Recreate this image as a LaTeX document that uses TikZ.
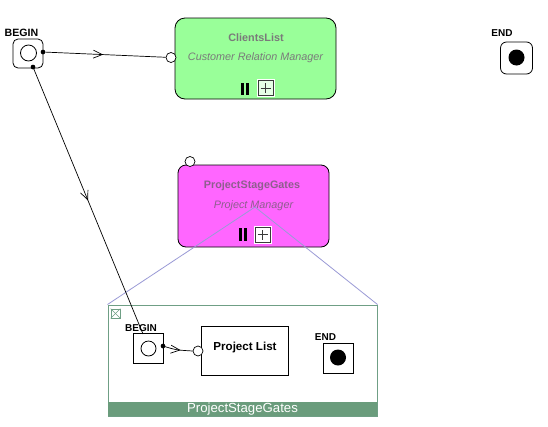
\documentclass[tikz,border=0pt]{standalone}
\usepackage{fontspec}
\setmainfont{Liberation Sans}
\usetikzlibrary{arrows.meta,decorations.markings}
\definecolor{lgreen}{HTML}{99FF99}
\definecolor{mag}{HTML}{FF66FF}
\definecolor{titlegray}{HTML}{7A7A7A}
\definecolor{maggray}{HTML}{8E5E8E}
\definecolor{lav}{HTML}{9A9AD6}
\definecolor{framegreen}{HTML}{6F9F85}
\definecolor{bandgreen}{HTML}{6A9C7C}
\definecolor{iconborder}{HTML}{3A3A3A}
\begin{document}
\begin{tikzpicture}[x=1pt,y=-1pt,
  lbl/.style={font=\bfseries\fontsize{10}{11}\selectfont, inner sep=0},
  evbox/.style={draw, line width=0.8pt, minimum width=30pt, minimum height=30pt, inner sep=0},
  startc/.style={circle, draw, line width=0.8pt, minimum size=16pt, inner sep=0},
  endc/.style={circle, fill=black, minimum size=15pt, inner sep=0},
  port/.style={circle, draw, line width=0.7pt, fill=white, minimum size=10pt, inner sep=0},
  dot/.style={circle, fill=black, minimum size=4.5pt, inner sep=0},
  task/.style={draw, line width=0.8pt, rounded corners=10pt, inner sep=0},
  ttl/.style={font=\bfseries\fontsize{10.8}{12}\selectfont, inner sep=0},
  role/.style={font=\itshape\fontsize{10.8}{12}\selectfont, inner sep=0},
  conn/.style={line width=0.7pt},
  midarrow/.style={postaction={decorate}, decoration={markings, mark=at position #1 with {\arrow{Straight Barb[length=9pt,width=8pt,line width=0.7pt]}}}},
  pbar/.style={fill=black, minimum width=3pt, minimum height=12pt, inner sep=0},
  plusout/.style={draw=white, line width=0.8pt, minimum size=17pt, inner sep=0},
  plusin/.style={draw=iconborder, line width=0.8pt, minimum size=15pt, inner sep=0},
  pluscross/.style={line width=0.8pt, draw=iconborder}
]
\useasboundingbox (0,0) rectangle (548,426);
\fill[white] (0,0) rectangle (548,426);

% ---- top BEGIN
\node[evbox, rounded corners=5pt, minimum width=30pt, minimum height=29pt] (b1) at (28,53.5) {};
\node[startc] (b1c) at (28.5,53) {};
\node[lbl, font=\bfseries\fontsize{10.6}{11}\selectfont] (b1l) at (21.5,33) {BEGIN};

% ---- top END
\node[evbox, rounded corners=6pt, minimum width=32pt, minimum height=32pt] (e1) at (516.5,58) {};
\node[endc, minimum size=16pt] (e1c) at (516.5,57.5) {};
\node[lbl] (e1l) at (502,33.5) {END};

% ---- ClientsList
\node[task, fill=lgreen, minimum width=161pt, minimum height=81pt] (cl) at (255.5,58.5) {};
\node[ttl, text=titlegray] (clt) at (256,38) {ClientsList};
\node[role, text=titlegray] (clr) at (255.5,57.5) {Customer Relation Manager};
\node[pbar] (clb1) at (242.5,88.5) {};
\node[pbar] (clb2) at (247.5,88.5) {};
\node[plusout] (clpo) at (265.5,88) {};
\node[plusin, fill=lgreen!25!white] (clp) at (265.5,88) {};
\draw[pluscross] ([xshift=-5pt]clp.center) -- ([xshift=5pt]clp.center);
\draw[pluscross] ([yshift=-5pt]clp.center) -- ([yshift=5pt]clp.center);
\node[port] (clport) at (171,57.5) {};

% ---- ProjectStageGates
\node[task, rounded corners=8pt, fill=mag, minimum width=151pt, minimum height=82pt] (psg) at (253.5,206) {};
\node[ttl, text=maggray] (psgt) at (252,185.5) {ProjectStageGates};
\node[role, text=maggray] (psgr) at (253.5,205.5) {Project Manager};
\node[pbar, minimum height=13pt] (psgb1) at (240,234.5) {};
\node[pbar, minimum height=13pt] (psgb2) at (245,234.5) {};
\node[plusout] (psgpo) at (262.5,234.5) {};
\node[plusin, fill=white] (psgp) at (262.5,234.5) {};
\draw[pluscross] ([xshift=-5pt]psgp.center) -- ([xshift=5pt]psgp.center);
\draw[pluscross] ([yshift=-5pt]psgp.center) -- ([yshift=5pt]psgp.center);
\node[port] (psgport) at (190,161.5) {};

% ---- expanded sub-process frame
\node[draw=framegreen, line width=1pt, minimum width=269pt, minimum height=111pt, inner sep=0] (frame) at (242.5,360.5) {};
\node[fill=bandgreen, minimum width=269pt, minimum height=14pt, inner sep=0, anchor=south,
      text=white, font=\fontsize{13.2}{13}\selectfont] (band) at (frame.south) {ProjectStageGates};
\node[draw=framegreen, line width=0.6pt, minimum size=9pt, inner sep=0] (xbox) at (115.5,313.5) {};
\draw[framegreen, line width=0.6pt] (xbox.north west) -- (xbox.south east);
\draw[framegreen, line width=0.6pt] (xbox.north east) -- (xbox.south west);
\coordinate (apex) at (255,207);
\draw[lav, line width=0.8pt] (apex) -- (frame.north west);
\draw[lav, line width=0.8pt] (apex) -- (frame.north east);

% inner BEGIN
\node[evbox] (b2) at (148,348) {};
\node[startc, minimum size=15pt] (b2c) at (148.5,348.5) {};
\node[lbl] (b2l) at (141,328) {BEGIN};

% Project List
\node[draw, line width=0.8pt, minimum width=87pt, minimum height=49pt, inner sep=0] (pl) at (244.5,350.5) {};
\node[ttl, font=\bfseries\fontsize{11.6}{12}\selectfont] (plt) at (245,347.5) {Project List};
\node[port] (plport) at (198,351) {};

% inner END
\node[evbox] (e2) at (338,358) {};
\node[endc, minimum size=16pt] (e2c) at (338,357.5) {};
\node[lbl] (e2l) at (325.5,337) {END};

% ---- connectors
\node[dot] (d1) at (43,52) {};
\node[dot] (d2) at (33,67) {};
\node[dot] (d3) at (163,346) {};
\coordinate (b2in) at (143,334);
\draw[conn, midarrow=0.48] (d1) -- (clport);
\draw[conn, midarrow=0.5] (d2.center) -- (b2in);
\draw[conn, midarrow=0.6] (d3.center) .. controls (176,350) .. (plport.west);
\node[dot] at (d1) {};
\node[dot] at (d2) {};
\node[dot] at (d3) {};
\end{tikzpicture}
\end{document}
